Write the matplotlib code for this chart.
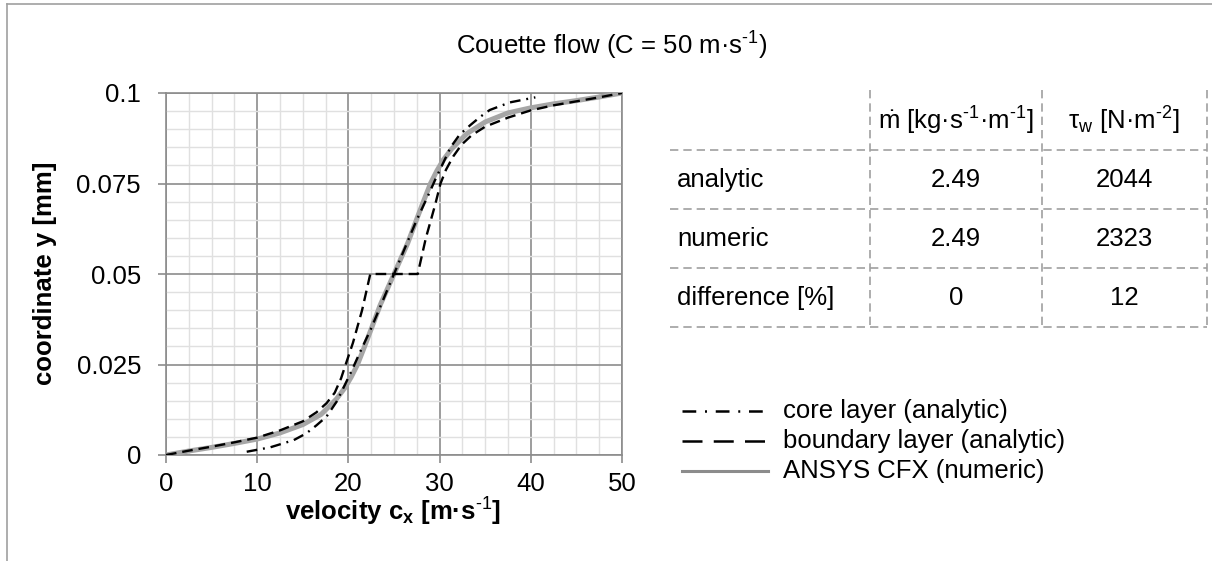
import matplotlib
matplotlib.use("Agg")
import matplotlib.pyplot as plt
from matplotlib.lines import Line2D
from matplotlib.ticker import MultipleLocator

plt.rcParams['font.family'] = ['Liberation Sans', 'DejaVu Sans']
plt.rcParams['mathtext.fontset'] = 'custom'
plt.rcParams['mathtext.rm'] = 'Liberation Sans'
plt.rcParams['mathtext.it'] = 'Liberation Sans:italic'
plt.rcParams['mathtext.bf'] = 'Liberation Sans:bold'

# ---------------- data ----------------
num_x = [0, 2.5, 5, 7.5, 10, 12.5, 15, 17, 17.8, 18.7, 19.6, 20.3, 21.0, 21.7, 22.5, 23.5,
         25, 26.5, 27.5, 28.3, 29.0, 29.7, 30.4, 31.3, 32.2, 33, 35, 37.5, 40, 42.5, 45,
         47.5, 50]
num_y = [0, 0.0011, 0.0021, 0.0032, 0.0044, 0.0061, 0.0084, 0.0112, 0.0132, 0.0155, 0.0185,
         0.0215, 0.0250, 0.0295, 0.0348, 0.0415, 0.0500, 0.0585, 0.0652, 0.0705, 0.0750,
         0.0785, 0.0815, 0.0845, 0.0868, 0.0888, 0.0920, 0.0945, 0.0959, 0.0970, 0.0979,
         0.0989, 0.1]

bl_x = [0, 2.5, 5, 7.5, 10, 12.5, 15, 16.5, 17.6, 18.5, 19.2, 19.7, 20.5, 21.5, 22.4,
        27.6, 28.5, 29.5, 30.1, 30.7, 31.5, 32.4, 33.5, 35, 37.5, 40, 42.5, 45, 47.5, 50]
bl_y = [0, 0.0012, 0.0023, 0.0035, 0.0048, 0.0068, 0.0093, 0.0118, 0.0143, 0.0172, 0.0212,
        0.025, 0.031, 0.040, 0.05, 0.05, 0.060, 0.069, 0.075, 0.0788, 0.0825, 0.0857,
        0.0883, 0.0907, 0.0932, 0.0952, 0.0966, 0.0977, 0.0988, 0.1]

core_x = [8.85, 11.4, 14, 15.4, 16.5, 17.6, 18.7, 19.6, 20.4, 21.2, 22.5, 25, 27.5, 28.8,
          29.6, 30.4, 31.2, 32.2, 33.4, 34.5, 35.5, 37.7, 40.5]
core_y = [0.0009, 0.0021, 0.0041, 0.006, 0.0082, 0.0106, 0.0147, 0.0193, 0.0235, 0.028,
          0.0350, 0.05, 0.0650, 0.072, 0.0765, 0.0807, 0.0850, 0.0885, 0.0912, 0.0935,
          0.0953, 0.0974, 0.0988]

title = r'Couette flow (C = 50 m·s$^{\text{-1}}$)'
xlabel = r'velocity c$_{\mathbf{x}}$ [m·s$^{\mathbf{\text{-1}}}$]'
ylabel = 'coordinate y [mm]'
x_ticks = [0, 10, 20, 30, 40, 50]
y_ticks = [0, 0.025, 0.05, 0.075, 0.1]
y_tick_labels = ['0', '0.025', '0.05', '0.075', '0.1']

legend_labels = ['core layer (analytic)', 'boundary layer (analytic)', 'ANSYS CFX (numeric)']

table_header = [r'$\dot{\mathrm{m}}$ [kg·s$^{\text{-1}}$·m$^{\text{-1}}$]',
                r'τ$_{\mathrm{w}}$ [N·m$^{\text{-2}}$]']
table_rows = ['analytic', 'numeric', 'difference [%]']
table_mdot = ['2.49', '2.49', '0']
table_tau = ['2044', '2323', '12']

# ---------------- figure ----------------
W, H = 1212, 561
FS = 18.5
fig = plt.figure(figsize=(W / 100, H / 100), dpi=100)

def fx(px):
    return px / W

def fy(py):
    return 1 - py / H

ax = fig.add_axes([fx(166), fy(455), fx(622) - fx(166), fy(93) - fy(455)])

major_c = '#8c8c8c'
minor_c = '#e0e0e0'
ax.set_xlim(0, 50)
ax.set_ylim(0, 0.1)
ax.xaxis.set_minor_locator(MultipleLocator(2.5))
ax.yaxis.set_minor_locator(MultipleLocator(0.005))
ax.set_xticks(x_ticks)
ax.set_yticks(y_ticks)
ax.set_yticklabels(y_tick_labels)
ax.grid(which='minor', color=minor_c, lw=1.0, zorder=0)
ax.grid(which='major', color=major_c, lw=1.2, zorder=0.5)
ax.set_axisbelow(True)
for s in ax.spines.values():
    s.set_color(major_c)
    s.set_linewidth(1.2)
ax.tick_params(which='major', direction='out', length=6, width=1.2, color=major_c,
               labelsize=FS, labelcolor='black')
ax.tick_params(axis='x', which='major', pad=6)
ax.tick_params(axis='y', which='major', pad=12)
ax.tick_params(which='minor', length=0)

ax.plot(num_x, num_y, color='#a6a6a6', lw=3.6, solid_capstyle='round',
        solid_joinstyle='round', zorder=3)
ax.plot(bl_x, bl_y, color='black', lw=1.7, dashes=(4.5, 2.5), zorder=4)
ax.plot(core_x, core_y, color='black', lw=1.7, dashes=(4.5, 2.5, 0.8, 2.5), zorder=5)

fig.text(fx(612), fy(46), title, ha='center', va='center', fontsize=FS)
ax.set_xlabel(xlabel, fontsize=FS, fontweight='bold', va='center')
ax.xaxis.set_label_coords((393 - 166) / 456, (455 - 512) / 362)
ax.set_ylabel(ylabel, fontsize=FS, fontweight='bold', va='center')
ax.yaxis.set_label_coords((45 - 166) / 456, (455 - 273) / 362)

# ---------------- table ----------------
tc = '#a0a0a0'
for yy in [150, 209, 268, 327]:
    fig.add_artist(Line2D([fx(670), fx(1207)], [fy(yy), fy(yy)], color=tc, lw=1.2,
                          dashes=(5, 3)))
for xx in [870, 1042, 1207]:
    fig.add_artist(Line2D([fx(xx), fx(xx)], [fy(90), fy(327)], color=tc, lw=1.2,
                          dashes=(5, 3)))
fig.text(fx(956), fy(121), table_header[0], ha='center', va='center', fontsize=FS)
fig.text(fx(1124), fy(121), table_header[1], ha='center', va='center', fontsize=FS)
for i, (lab, m, t) in enumerate(zip(table_rows, table_mdot, table_tau)):
    yy = 180 + i * 59
    fig.text(fx(677), fy(yy), lab, ha='left', va='center', fontsize=FS)
    fig.text(fx(956), fy(yy), m, ha='center', va='center', fontsize=FS)
    fig.text(fx(1124), fy(yy), t, ha='center', va='center', fontsize=FS)

# ---------------- legend (drawn manually) ----------------
leg_styles = [dict(color='black', lw=1.8, dashes=(5.5, 3.5, 0.8, 3.5)),
              dict(color='black', lw=1.8, dashes=(8, 4.5)),
              dict(color='#8c8c8c', lw=2.2)]
for i, (lab, st) in enumerate(zip(legend_labels, leg_styles)):
    yy = 411 + i * 30
    fig.add_artist(Line2D([fx(682), fx(768)], [fy(yy), fy(yy)], **st))
    fig.text(fx(783), fy(yy), lab, ha='left', va='center', fontsize=FS)

# ---------------- outer frame (top and left edges) ----------------
fig.add_artist(Line2D([fx(7), fx(W)], [fy(4), fy(4)], color='#a0a0a0', lw=1.2))
fig.add_artist(Line2D([fx(7), fx(7)], [fy(4), fy(H)], color='#a0a0a0', lw=1.2))

fig.savefig('out.png', dpi=100)
